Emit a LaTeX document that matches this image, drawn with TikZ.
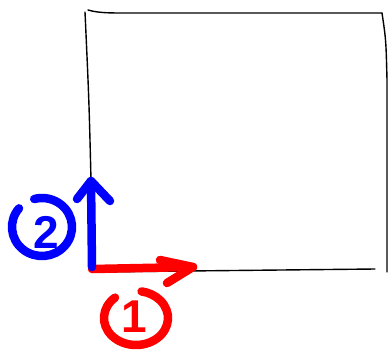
\documentclass[tikz,border=0pt]{standalone}
\usepackage{fontspec}
\usetikzlibrary{calc}
\newfontfamily\digitfont{Liberation Sans}
\tikzset{
  frame/.style={black, line width=1.4pt, line cap=round, line join=round},
  redpen/.style={draw=red, line width=8.5pt, line cap=round, line join=round},
  bluepen/.style={draw=blue, line width=8.5pt, line cap=round, line join=round},
  digit/.style={inner sep=0pt, font=\digitfont\bfseries\fontsize{46}{46}\selectfont}
}
\begin{document}
\begin{tikzpicture}[x=1pt,y=-1pt]
\useasboundingbox (0,0) rectangle (390,351);
% frame
\draw[frame] (85,12) .. controls (89,100) .. (91,180) -- (92,272);
\draw[frame] (88,10) .. controls (98,13) and (110,13) .. (125,13) -- (382,13);
\draw[frame] (382,13) .. controls (386,40) .. (387,80) -- (387,272);
\draw[frame] (92,272) -- (375,269);
% red arrow (1)
\coordinate (rs) at (92,269);
\coordinate (rt) at (193,267);
\draw[redpen] (rs) -- (rt);
\draw[redpen] (160,260) -- (rt) -- (167,283);
\coordinate (rc) at (136,318);
\draw[redpen] ($(rc)+(-131:32 and 27)$) arc[start angle=-131, end angle=-440, x radius=32, y radius=27];
\node[digit, text=red] (one) at (134,317) {1};
% blue arrow (2)
\coordinate (bs) at (92,267);
\coordinate (bt) at (91,181);
\draw[bluepen] (bs) -- (bt);
\draw[bluepen] (77,199) -- (bt) -- (110,201);
\coordinate (bc) at (42,227);
\draw[bluepen] ($(bc)+(-140:30 and 29)$) arc[start angle=-140, end angle=-465, x radius=30, y radius=29];
\node[digit, text=blue] (two) at (46,232) {2};
\end{tikzpicture}
\end{document}
